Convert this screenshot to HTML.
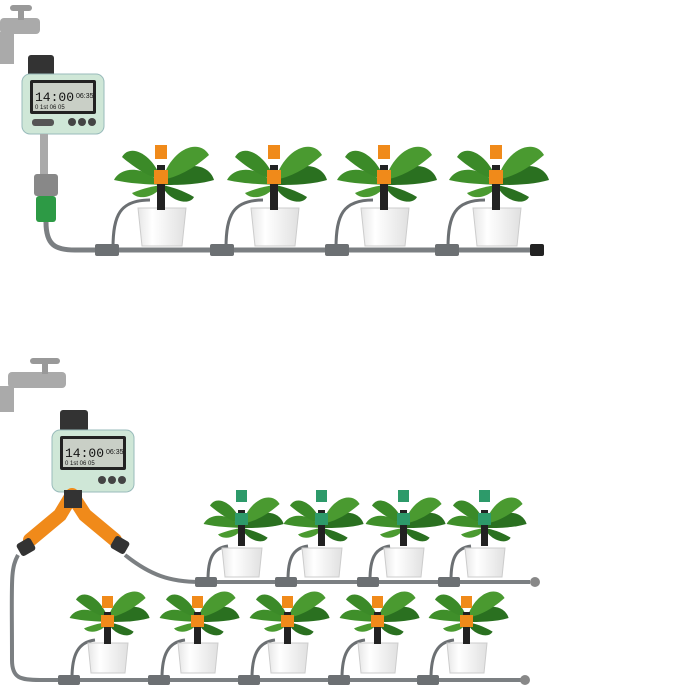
<!DOCTYPE html>
<html><head><style>body{margin:0;background:#fff}svg{display:block}</style></head><body>
<svg width="700" height="700" viewBox="0 0 700 700" xmlns="http://www.w3.org/2000/svg" font-family="Liberation Sans, sans-serif">
<defs>
<linearGradient id="pot" x1="0" x2="1"><stop offset="0" stop-color="#e6e6e6"/><stop offset="0.3" stop-color="#fff"/><stop offset="1" stop-color="#e0e0e0"/></linearGradient>
<g id="plant">
  <path d="M0,0 C-20,-22 -42,-17 -48,-5 C-30,-1 -15,-1 0,0Z" fill="#3f8f2a"/>
  <path d="M0,0 C20,-27 47,-22 52,-5 C35,0 15,0 0,0Z" fill="#2a7020"/>
  <path d="M0,-5 C10,-37 37,-47 47,-30 C30,-15 15,-8 0,-5Z" fill="#4a9a30"/>
  <path d="M0,-5 C-10,-32 -32,-42 -40,-28 C-25,-15 -12,-8 0,-5Z" fill="#3b8a28"/>
  <path d="M0,0 C5,15 27,22 32,12 C20,5 10,2 0,0Z" fill="#2a7020"/>
  <path d="M0,0 C-5,12 -24,16 -30,8 C-18,3 -8,1 0,0Z" fill="#4a9a30"/>
</g>
</defs>
<!-- TOP -->
<rect x="0" y="18" width="40" height="16" rx="4" fill="#aaa"/>
<rect x="0" y="32" width="14" height="32" fill="#aaa"/>
<rect x="10" y="5" width="22" height="6" rx="3" fill="#999"/>
<rect x="18" y="8" width="6" height="12" fill="#999"/>
<rect x="28" y="55" width="26" height="22" rx="3" fill="#333"/>
<rect x="22" y="74" width="82" height="60" rx="8" fill="#cfe7d7" stroke="#9bb" />
<rect x="30" y="80" width="66" height="34" rx="2" fill="#222"/>
<rect x="33" y="83" width="60" height="28" fill="#c9cfc6"/>
<text x="35" y="101" font-size="13" fill="#111" font-family="Liberation Mono, monospace">14:00</text>
<text x="76" y="98" font-size="7" fill="#111">06:35</text>
<text x="35" y="109" font-size="6" fill="#111">0 1st 06 05</text>
<rect x="32" y="119" width="22" height="7" rx="3" fill="#555"/>
<circle cx="72" cy="122" r="4" fill="#444"/><circle cx="82" cy="122" r="4" fill="#444"/><circle cx="92" cy="122" r="4" fill="#444"/>
<rect x="40" y="134" width="8" height="42" fill="#aaa"/>
<rect x="34" y="174" width="24" height="22" rx="3" fill="#888"/>
<rect x="36" y="196" width="20" height="26" rx="3" fill="#2d9a45"/>
<path d="M46,222 C46,245 55,250 75,250 L535,250" fill="none" stroke="#7b7f82" stroke-width="5"/>
<rect x="530" y="244" width="14" height="12" rx="2" fill="#222"/>
<g fill="#6c7073">
<rect x="95" y="244" width="24" height="12" rx="2"/><rect x="210" y="244" width="24" height="12" rx="2"/><rect x="325" y="244" width="24" height="12" rx="2"/><rect x="435" y="244" width="24" height="12" rx="2"/>
</g>
<g id="topset">
<path d="M113,248 C113,215 120,200 150,200" fill="none" stroke="#6c7073" stroke-width="3"/>
<path d="M138,208 L186,208 L182,246 L142,246Z" fill="url(#pot)" stroke="#ccc"/>
<use href="#plant" x="162" y="185"/>
<rect x="157" y="165" width="8" height="45" fill="#222"/>
<rect x="155" y="145" width="12" height="14" fill="#f08a1a"/>
<rect x="154" y="170" width="14" height="14" fill="#f08a1a"/>
</g>
<use href="#topset" x="113" y="0"/><use href="#topset" x="223" y="0"/><use href="#topset" x="335" y="0"/>
<!-- BOTTOM -->
<rect x="8" y="372" width="58" height="16" rx="4" fill="#aaa"/>
<rect x="0" y="386" width="14" height="26" fill="#aaa"/>
<rect x="30" y="358" width="30" height="6" rx="3" fill="#999"/>
<rect x="42" y="362" width="6" height="12" fill="#999"/>
<rect x="60" y="410" width="28" height="22" rx="3" fill="#333"/>
<rect x="52" y="430" width="82" height="62" rx="8" fill="#cfe7d7" stroke="#9bb"/>
<rect x="60" y="436" width="66" height="34" rx="2" fill="#222"/>
<rect x="63" y="439" width="60" height="28" fill="#c9cfc6"/>
<text x="65" y="457" font-size="13" fill="#111" font-family="Liberation Mono, monospace">14:00</text>
<text x="106" y="454" font-size="7" fill="#111">06:35</text>
<text x="65" y="465" font-size="6" fill="#111">0 1st 06 05</text>
<circle cx="102" cy="480" r="4" fill="#444"/><circle cx="112" cy="480" r="4" fill="#444"/><circle cx="122" cy="480" r="4" fill="#444"/>
<path d="M72,495 L60,515 L30,540 M72,495 L85,515 L115,540" fill="none" stroke="#f08a1a" stroke-width="14" stroke-linecap="round"/>
<rect x="64" y="490" width="18" height="18" fill="#333"/>
<rect x="18" y="540" width="16" height="14" rx="3" fill="#333" transform="rotate(-30 26 547)"/>
<rect x="112" y="538" width="16" height="14" rx="3" fill="#333" transform="rotate(30 120 545)"/>
<path d="M18,555 C10,570 12,580 12,660 C12,678 20,680 40,680 L525,680" fill="none" stroke="#7b7f82" stroke-width="4"/>
<path d="M125,555 C150,575 170,582 200,582 L530,582" fill="none" stroke="#7b7f82" stroke-width="4"/>
<circle cx="535" cy="582" r="5" fill="#888"/><circle cx="525" cy="680" r="5" fill="#888"/>
<g id="upset">
<rect x="195" y="577" width="22" height="10" rx="2" fill="#6c7073"/>
<path d="M208,580 C208,560 212,548 228,546" fill="none" stroke="#6c7073" stroke-width="3"/>
<path d="M222,548 L262,548 L259,577 L225,577Z" fill="url(#pot)" stroke="#ccc"/>
<use href="#plant" transform="translate(242 528) scale(0.8)"/>
<rect x="238" y="510" width="7" height="36" fill="#222"/>
<rect x="236" y="490" width="11" height="12" fill="#2d9a6a"/>
<rect x="235" y="513" width="13" height="12" fill="#2d9a6a"/>
</g>
<use href="#upset" x="80"/><use href="#upset" x="162"/><use href="#upset" x="243"/>
<g id="lowset">
<rect x="58" y="675" width="22" height="10" rx="2" fill="#6c7073"/>
<path d="M72,678 C72,655 78,642 95,640" fill="none" stroke="#6c7073" stroke-width="3"/>
<path d="M88,643 L128,643 L125,673 L91,673Z" fill="url(#pot)" stroke="#ccc"/>
<use href="#plant" transform="translate(108 622) scale(0.8)"/>
<rect x="104" y="612" width="7" height="32" fill="#222"/>
<rect x="102" y="596" width="11" height="12" fill="#f08a1a"/>
<rect x="101" y="615" width="13" height="12" fill="#f08a1a"/>
</g>
<use href="#lowset" x="90"/><use href="#lowset" x="180"/><use href="#lowset" x="270"/><use href="#lowset" x="359"/>
</svg>
</body></html>
